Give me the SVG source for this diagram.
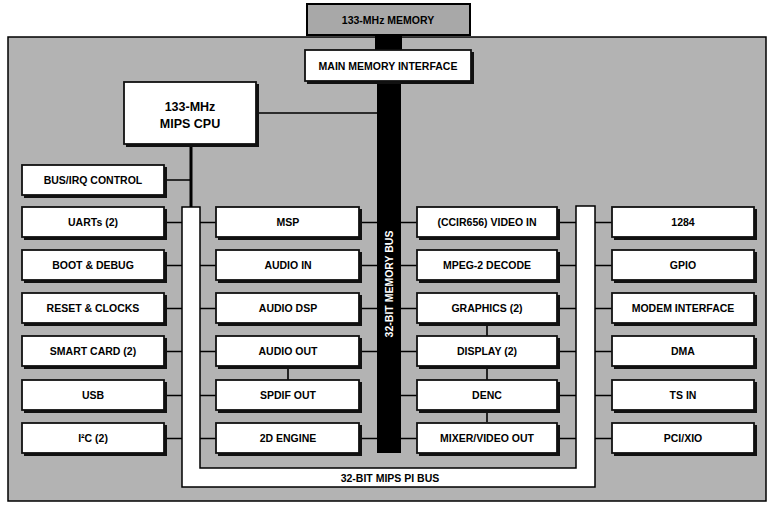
<svg xmlns="http://www.w3.org/2000/svg" width="773" height="511" viewBox="0 0 773 511">
<defs>
<style>
.bg{fill:#b3b3b3;stroke:#000;stroke-width:1.5}
.box{fill:#fff;stroke:#111;stroke-width:1.8}
.sh{fill:#111}
.lbl{font-family:"Liberation Sans",Arial,sans-serif;font-weight:bold;font-size:10.5px;fill:#000;text-anchor:middle}
.big{font-size:12.5px}
.wl{fill:#fff}
.ln{stroke:#000;stroke-width:1.6;fill:none}
.bus{fill:#000}
.pi{fill:#fff;stroke:#000;stroke-width:1.5}
</style>
</defs>
<rect width="773" height="511" fill="#fff"/>
<rect class="bg" x="8" y="37" width="758" height="464"/>

<g id="connectors">
<rect class="bus" x="375" y="34" width="27" height="18"/>
<rect class="bus" x="377" y="82" width="24" height="371"/>
<text class="lbl wl" font-size="10" transform="translate(393,284) rotate(-90)">32-BIT MEMORY BUS</text>
<path class="pi" d="M182,207 L200,207 L200,468 L576,468 L576,206 L595,206 L595,487 L182,487 Z"/>
<text class="lbl" x="390" y="482" font-size="9.5">32-BIT MIPS PI BUS</text>
<rect class="bus" x="189.5" y="145" width="3" height="62"/>
<path class="ln" d="M257,113 H377 M165,180 H191"/>
<path class="ln" d="M165,222.5 H182 M165,265.5 H182 M165,308.5 H182 M165,351.5 H182 M165,395.5 H182 M165,438.5 H182"/>
<path class="ln" d="M200,222.5 H216 M200,265.5 H216 M200,308.5 H216 M200,351.5 H216 M200,395.5 H216 M200,438.5 H216"/>
<path class="ln" d="M360,222.5 H377 M360,265.5 H377 M360,308.5 H377 M360,351.5 H377 M360,438.5 H377"/>
<path class="ln" d="M401,222.5 H417 M401,265.5 H417 M401,308.5 H417 M401,351.5 H417 M401,395.5 H417 M401,438.5 H417"/>
<path class="ln" d="M558,222.5 H576 M558,265.5 H576 M558,308.5 H576 M558,351.5 H576 M558,395.5 H576 M558,438.5 H576"/>
<path class="ln" d="M595,222.5 H612 M595,265.5 H612 M595,308.5 H612 M595,351.5 H612 M595,395.5 H612 M595,438.5 H612"/>
<path class="ln" d="M288,367 V380 M487,324 V337 M487,367 V380 M487,410 V422"/>
</g>

<g id="memory"><rect x="307" y="4" width="163" height="31" fill="#a8a8a8" stroke="#000" stroke-width="2"/><text class="lbl" x="388" y="24" font-size="10">133-MHz MEMORY</text></g>
<g id="mmi"><rect class="sh" x="307" y="52" width="167" height="32"/><rect class="box" x="305" y="50" width="166" height="31"/><text class="lbl" x="388" y="70">MAIN MEMORY INTERFACE</text></g>
<g id="cpu"><rect class="sh" x="126" y="84" width="133" height="63"/><rect class="box" x="124" y="82" width="132" height="62"/><text class="lbl big" x="190" y="111">133-MHz</text><text class="lbl big" x="190" y="128">MIPS CPU</text></g>
<g id="busirq"><rect class="sh" x="24" y="167" width="143" height="31"/><rect class="box" x="22" y="165" width="142" height="30"/><text class="lbl" x="93" y="184">BUS/IRQ CONTROL</text></g>

<g id="uarts"><rect class="sh" x="24" y="209" width="143" height="31"/><rect class="box" x="22" y="207" width="142" height="30"/><text class="lbl" x="93" y="226">UARTs (2)</text></g>
<g id="boot"><rect class="sh" x="24" y="252" width="143" height="31"/><rect class="box" x="22" y="250" width="142" height="30"/><text class="lbl" x="93" y="269">BOOT &amp; DEBUG</text></g>
<g id="reset"><rect class="sh" x="24" y="295" width="143" height="31"/><rect class="box" x="22" y="293" width="142" height="30"/><text class="lbl" x="93" y="312">RESET &amp; CLOCKS</text></g>
<g id="smartcard"><rect class="sh" x="24" y="338" width="143" height="31"/><rect class="box" x="22" y="336" width="142" height="30"/><text class="lbl" x="93" y="355">SMART CARD (2)</text></g>
<g id="usb"><rect class="sh" x="24" y="382" width="143" height="31"/><rect class="box" x="22" y="380" width="142" height="30"/><text class="lbl" x="93" y="399">USB</text></g>
<g id="i2c"><rect class="sh" x="24" y="425" width="143" height="31"/><rect class="box" x="22" y="423" width="142" height="30"/><text class="lbl" x="93" y="442">I²C (2)</text></g>

<g id="msp"><rect class="sh" x="218" y="209" width="144" height="31"/><rect class="box" x="216" y="207" width="143" height="30"/><text class="lbl" x="288" y="226">MSP</text></g>
<g id="audioin"><rect class="sh" x="218" y="252" width="144" height="31"/><rect class="box" x="216" y="250" width="143" height="30"/><text class="lbl" x="288" y="269">AUDIO IN</text></g>
<g id="audiodsp"><rect class="sh" x="218" y="295" width="144" height="31"/><rect class="box" x="216" y="293" width="143" height="30"/><text class="lbl" x="288" y="312">AUDIO DSP</text></g>
<g id="audioout"><rect class="sh" x="218" y="338" width="144" height="31"/><rect class="box" x="216" y="336" width="143" height="30"/><text class="lbl" x="288" y="355">AUDIO OUT</text></g>
<g id="spdif"><rect class="sh" x="218" y="382" width="144" height="31"/><rect class="box" x="216" y="380" width="143" height="30"/><text class="lbl" x="288" y="399">SPDIF OUT</text></g>
<g id="engine2d"><rect class="sh" x="218" y="425" width="144" height="31"/><rect class="box" x="216" y="423" width="143" height="30"/><text class="lbl" x="288" y="442">2D ENGINE</text></g>

<g id="videoin"><rect class="sh" x="419" y="209" width="141" height="31"/><rect class="box" x="417" y="207" width="140" height="30"/><text class="lbl" x="487" y="226">(CCIR656) VIDEO IN</text></g>
<g id="mpeg"><rect class="sh" x="419" y="252" width="141" height="31"/><rect class="box" x="417" y="250" width="140" height="30"/><text class="lbl" x="487" y="269">MPEG-2 DECODE</text></g>
<g id="graphics"><rect class="sh" x="419" y="295" width="141" height="31"/><rect class="box" x="417" y="293" width="140" height="30"/><text class="lbl" x="487" y="312">GRAPHICS (2)</text></g>
<g id="display"><rect class="sh" x="419" y="338" width="141" height="31"/><rect class="box" x="417" y="336" width="140" height="30"/><text class="lbl" x="487" y="355">DISPLAY (2)</text></g>
<g id="denc"><rect class="sh" x="419" y="382" width="141" height="31"/><rect class="box" x="417" y="380" width="140" height="30"/><text class="lbl" x="487" y="399">DENC</text></g>
<g id="mixer"><rect class="sh" x="419" y="425" width="141" height="31"/><rect class="box" x="417" y="423" width="140" height="30"/><text class="lbl" x="487" y="442">MIXER/VIDEO OUT</text></g>

<g id="p1284"><rect class="sh" x="614" y="209" width="143" height="31"/><rect class="box" x="612" y="207" width="142" height="30"/><text class="lbl" x="683" y="226">1284</text></g>
<g id="gpio"><rect class="sh" x="614" y="252" width="143" height="31"/><rect class="box" x="612" y="250" width="142" height="30"/><text class="lbl" x="683" y="269">GPIO</text></g>
<g id="modem"><rect class="sh" x="614" y="295" width="143" height="31"/><rect class="box" x="612" y="293" width="142" height="30"/><text class="lbl" x="683" y="312">MODEM INTERFACE</text></g>
<g id="dma"><rect class="sh" x="614" y="338" width="143" height="31"/><rect class="box" x="612" y="336" width="142" height="30"/><text class="lbl" x="683" y="355">DMA</text></g>
<g id="tsin"><rect class="sh" x="614" y="382" width="143" height="31"/><rect class="box" x="612" y="380" width="142" height="30"/><text class="lbl" x="683" y="399">TS IN</text></g>
<g id="pcixio"><rect class="sh" x="614" y="425" width="143" height="31"/><rect class="box" x="612" y="423" width="142" height="30"/><text class="lbl" x="683" y="442">PCI/XIO</text></g>
</svg>
